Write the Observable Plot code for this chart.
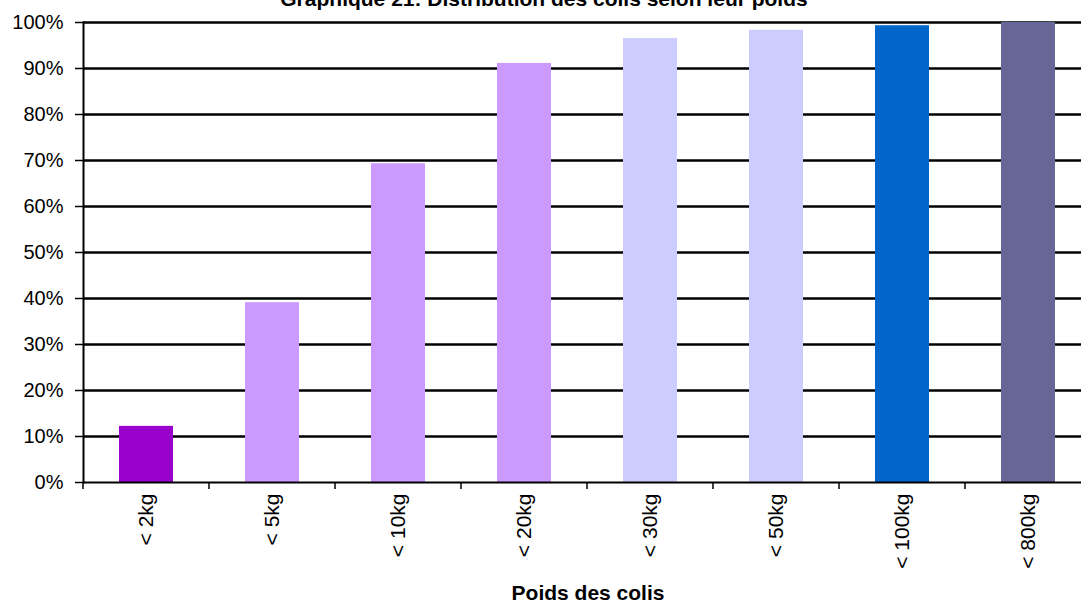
<!DOCTYPE html>
<html>
<head>
<meta charset="utf-8">
<script src="https://cdn.jsdelivr.net/npm/d3@7"></script>
<script src="https://cdn.jsdelivr.net/npm/@observablehq/plot@0.6"></script>
<style>
  html, body { margin: 0; padding: 0; background: #fff; overflow: hidden; width: 1081px; height: 605px; }
  #wrap { position: relative; width: 1081px; height: 605px; overflow: hidden; }
  .title { position: absolute; z-index: 2; top: -9px; left: 544px; transform: translateX(-50%); white-space: nowrap;
           font: bold 21px "Liberation Sans", Arial, sans-serif; line-height: 16px; color: #000; }
  .xlabel { position: absolute; z-index: 2; top: 585px; left: 588px; transform: translateX(-50%); white-space: nowrap;
            font: bold 21px "Liberation Sans", Arial, sans-serif; line-height: 16px; color: #000; }
  #chart { position: absolute; z-index: 1; top: 0; left: 0; width: 1100px; }
  #chart svg { max-width: none !important; width: 1100px !important; height: 560px !important; }
</style>
</head>
<body>
<div id="wrap">
  <div id="chart"></div>
  <div class="title">Graphique 21: Distribution des colis selon leur poids</div>
  <div class="xlabel">Poids des colis</div>
</div>
<script>
const categories = ["< 2kg", "< 5kg", "< 10kg", "< 20kg", "< 30kg", "< 50kg", "< 100kg", "< 800kg"];
const values = [0.122, 0.391, 0.693, 0.911, 0.965, 0.983, 0.993, 1.0];
const barColors = ["#9900CC", "#CC99FF", "#CC99FF", "#CC99FF", "#CCCCFF", "#CCCCFF", "#0066CC", "#666699"];
const yTicks = [0, 0.1, 0.2, 0.3, 0.4, 0.5, 0.6, 0.7, 0.8, 0.9, 1.0];

const data = categories.map((c, i) => ({cat: c, value: values[i], color: barColors[i]}));
const pct = d3.format(".0%");

const chart = Plot.plot({
  width: 1100,
  height: 560,
  marginLeft: 83,
  marginRight: 8,
  marginTop: 22,
  marginBottom: 78,
  style: {fontFamily: "'Liberation Sans', Arial, sans-serif", fontSize: "20px", color: "#000", background: "transparent", overflow: "visible", maxWidth: "none"},
  x: {domain: categories, paddingInner: 0.57, paddingOuter: 0.285, label: null},
  y: {domain: [0, 1], label: null},
  color: {type: "identity"},
  marks: [
    Plot.ruleY(yTicks.filter(d => d > 0), {stroke: "black", strokeWidth: 2.5}),
    Plot.barY(data, {x: "cat", y: "value", fill: "color"}),
    Plot.ruleY([0], {stroke: "black", strokeWidth: 2}),
    Plot.frame({anchor: "left", stroke: "black", strokeWidth: 2}),
    Plot.axisY({ticks: yTicks, tickFormat: pct, tickSize: 8, tickPadding: 12, strokeWidth: 1.5, fontSize: 20, label: null}),
    Plot.axisX({tickRotate: -90, tickSize: 0, tickPadding: 11, fontSize: 21, label: null})
  ]
});

document.getElementById("chart").appendChild(chart);

// tick marks at category boundaries on the x axis, placed through Plot's scales
const xs = chart.scale("x");
const ys = chart.scale("y");
const y0 = ys.apply(0);
const half = (xs.step - xs.bandwidth) / 2;
const g = d3.select(chart).append("g").attr("stroke", "black").attr("stroke-width", 1.5);
categories.forEach(c => {
  const x = xs.apply(c) - half;
  g.append("line").attr("x1", x).attr("x2", x).attr("y1", y0).attr("y2", y0 + 7);
});
</script>
</body>
</html>
